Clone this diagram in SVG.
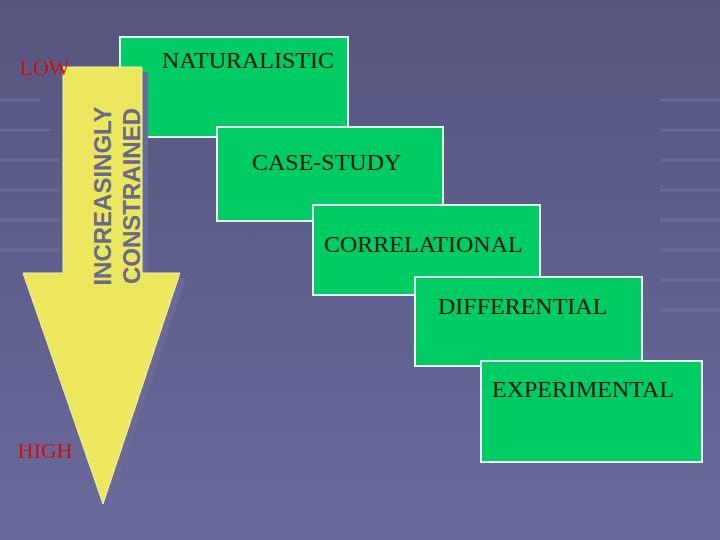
<svg xmlns="http://www.w3.org/2000/svg" width="720" height="540" viewBox="0 0 720 540">
<defs>
<linearGradient id="bg" x1="0" y1="0" x2="0" y2="1"><stop offset="0" stop-color="#55557f"/><stop offset="1" stop-color="#6a6a9c"/></linearGradient>
<style>
.box{fill:#00cc66;stroke:#e6f5ee;stroke-width:2}
.t{font-family:"Liberation Serif",serif;font-size:24px;fill:#0a1a0a}
.v{font-family:"Liberation Sans",sans-serif;font-weight:bold;font-size:24px;fill:#6a6a88}
.stripe{stroke:#7a7aa6;stroke-width:3;opacity:0.5}
</style>
</defs>
<rect width="720" height="540" fill="url(#bg)"/>
<g id="bgstripes" class="stripe">
<line x1="0" y1="100" x2="40" y2="100"/><line x1="0" y1="130" x2="50" y2="130"/><line x1="0" y1="160" x2="60" y2="160"/><line x1="0" y1="190" x2="60" y2="190"/><line x1="0" y1="220" x2="60" y2="220"/><line x1="0" y1="250" x2="60" y2="250"/>
<line x1="660" y1="100" x2="720" y2="100"/><line x1="660" y1="130" x2="720" y2="130"/><line x1="660" y1="160" x2="720" y2="160"/><line x1="660" y1="190" x2="720" y2="190"/><line x1="660" y1="220" x2="720" y2="220"/><line x1="660" y1="250" x2="720" y2="250"/><line x1="660" y1="280" x2="720" y2="280"/><line x1="660" y1="310" x2="720" y2="310"/>
</g>
<g id="naturalistic"><rect class="box" x="120" y="37" width="228" height="100"/><text class="t" x="162" y="68">NATURALISTIC</text></g>
<g id="arrow">
<polygon points="68,72 148,72 148,278 186,278 109,508" fill="#6a6a96"/>
<polygon points="63,67 142,67 142,273 180,273 103,504 23,273 63,273" fill="#ebe860" stroke="#f2f0a0" stroke-width="1"/>
<text class="v" transform="translate(111,196) rotate(-90)" text-anchor="middle">INCREASINGLY</text>
<text class="v" transform="translate(140,196) rotate(-90)" text-anchor="middle">CONSTRAINED</text>
</g>
<g id="low"><text x="20" y="75" font-family="Liberation Serif,serif" font-size="22" fill="#cc1111">LOW</text></g>
<g id="high"><text x="18" y="458" font-family="Liberation Serif,serif" font-size="22" fill="#cc1111">HIGH</text></g>
<g id="casestudy"><rect class="box" x="217" y="127" width="226" height="94"/><text class="t" x="252" y="170">CASE-STUDY</text></g>
<g id="correlational"><rect class="box" x="313" y="205" width="227" height="90"/><text class="t" x="324" y="252">CORRELATIONAL</text></g>
<g id="differential"><rect class="box" x="415" y="277" width="227" height="89"/><text class="t" x="438" y="314">DIFFERENTIAL</text></g>
<g id="experimental"><rect class="box" x="481" y="361" width="221" height="101"/><text class="t" x="492" y="397">EXPERIMENTAL</text></g>
<g id="connectors"/>
</svg>
